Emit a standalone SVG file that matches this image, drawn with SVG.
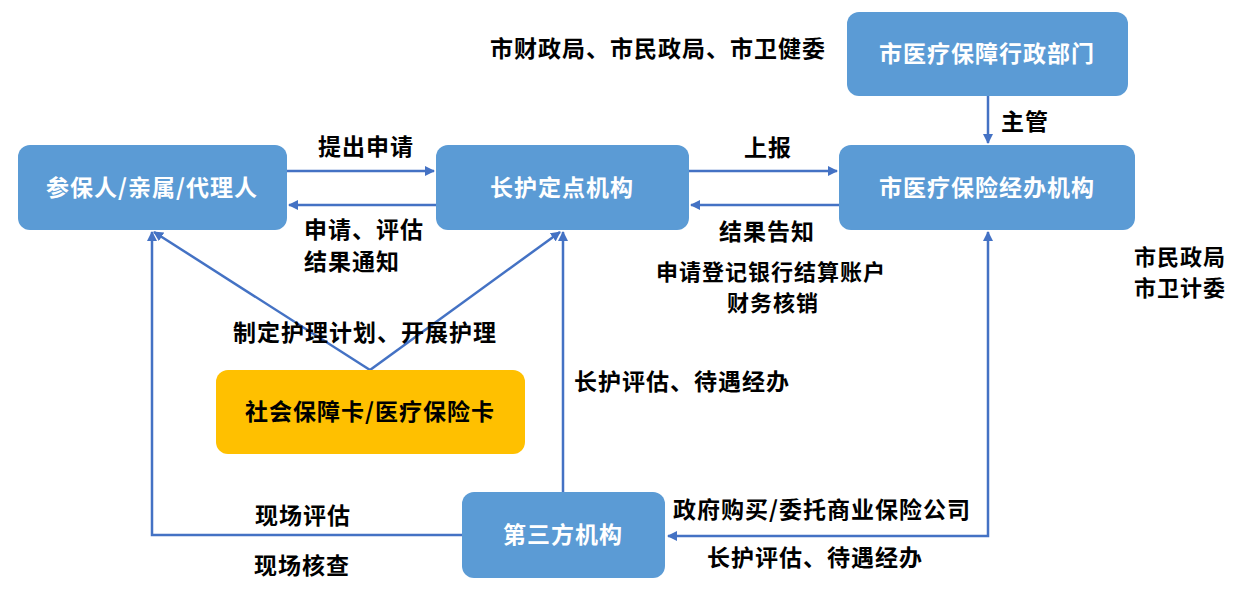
<svg xmlns="http://www.w3.org/2000/svg" width="1242" height="590" viewBox="0 0 1242 590">
<style>
text{font-family:"Noto Sans CJK SC","Liberation Sans",sans-serif;font-weight:bold;font-size:23px;text-anchor:middle;letter-spacing:1px}
.sm{font-size:22px}
.box{fill:#5B9BD5}
.yel{fill:#FFC000}
.nt{fill:#fff}
.lb{fill:#000}
.ln{stroke:#4472C4;stroke-width:2.5;fill:none}
</style>
<defs>
<marker id="ah" viewBox="0 0 10 10" refX="9" refY="5" markerWidth="4" markerHeight="4" orient="auto-start-reverse" markerUnits="strokeWidth">
<path d="M0,0 L10,5 L0,10 z" fill="#4472C4"/>
</marker>
</defs>
<rect width="1242" height="590" fill="#fff"/>
<g id="connectors">
<line class="ln" x1="287" y1="171" x2="434" y2="171" marker-end="url(#ah)"/>
<line class="ln" x1="436" y1="205" x2="289" y2="205" marker-end="url(#ah)"/>
<line class="ln" x1="689" y1="171" x2="837" y2="171" marker-end="url(#ah)"/>
<line class="ln" x1="839" y1="205" x2="691" y2="205" marker-end="url(#ah)"/>
<line class="ln" x1="988" y1="96" x2="988" y2="143" marker-end="url(#ah)"/>
<line class="ln" x1="370" y1="370" x2="154" y2="232" marker-end="url(#ah)"/>
<line class="ln" x1="370" y1="370" x2="560" y2="232" marker-end="url(#ah)"/>
<polyline class="ln" points="462,535 152,535 152,232" marker-end="url(#ah)"/>
<line class="ln" x1="563" y1="493" x2="563" y2="232" marker-end="url(#ah)"/>
<polyline class="ln" points="668,536 988,536 988,232" marker-start="url(#ah)" marker-end="url(#ah)"/>
</g>
<g id="node-canbao">
<rect class="box" x="18" y="145" width="269" height="85" rx="12"/>
<text class="nt" x="152" y="196">参保人/亲属/代理人</text>
</g>
<g id="node-changhu">
<rect class="box" x="436" y="145" width="253" height="85" rx="12"/>
<text class="nt" x="562" y="196">长护定点机构</text>
</g>
<g id="node-jingban">
<rect class="box" x="839" y="145" width="296" height="85" rx="12"/>
<text class="nt" x="987" y="196">市医疗保险经办机构</text>
</g>
<g id="node-xingzheng">
<rect class="box" x="847" y="12" width="281" height="84" rx="12"/>
<text class="nt" x="987" y="62">市医疗保障行政部门</text>
</g>
<g id="node-card">
<rect class="yel" x="216" y="370" width="309" height="84" rx="12"/>
<text class="lb" x="370" y="420">社会保障卡/医疗保险卡</text>
</g>
<g id="node-third">
<rect class="box" x="462" y="492" width="203" height="86" rx="12"/>
<text class="nt" x="563" y="543">第三方机构</text>
</g>
<g id="labels">
<text x="366" y="155">提出申请</text>
<text x="304" y="238" style="text-anchor:start">申请、评估</text>
<text x="304" y="270" style="text-anchor:start">结果通知</text>
<text x="768" y="156">上报</text>
<text x="767" y="240">结果告知</text>
<text x="1025" y="130">主管</text>
<text x="658" y="57">市财政局、市民政局、市卫健委</text>
<text class="sm" x="771" y="280">申请登记银行结算账户</text>
<text class="sm" x="773" y="311">财务核销</text>
<text class="sm" x="1180" y="265">市民政局</text>
<text class="sm" x="1180" y="296">市卫计委</text>
<text x="365" y="341">制定护理计划、开展护理</text>
<text x="682" y="390">长护评估、待遇经办</text>
<text x="822" y="518">政府购买/委托商业保险公司</text>
<text x="815" y="566">长护评估、待遇经办</text>
<text x="303" y="524">现场评估</text>
<text x="302" y="574">现场核查</text>
</g>
</svg>
